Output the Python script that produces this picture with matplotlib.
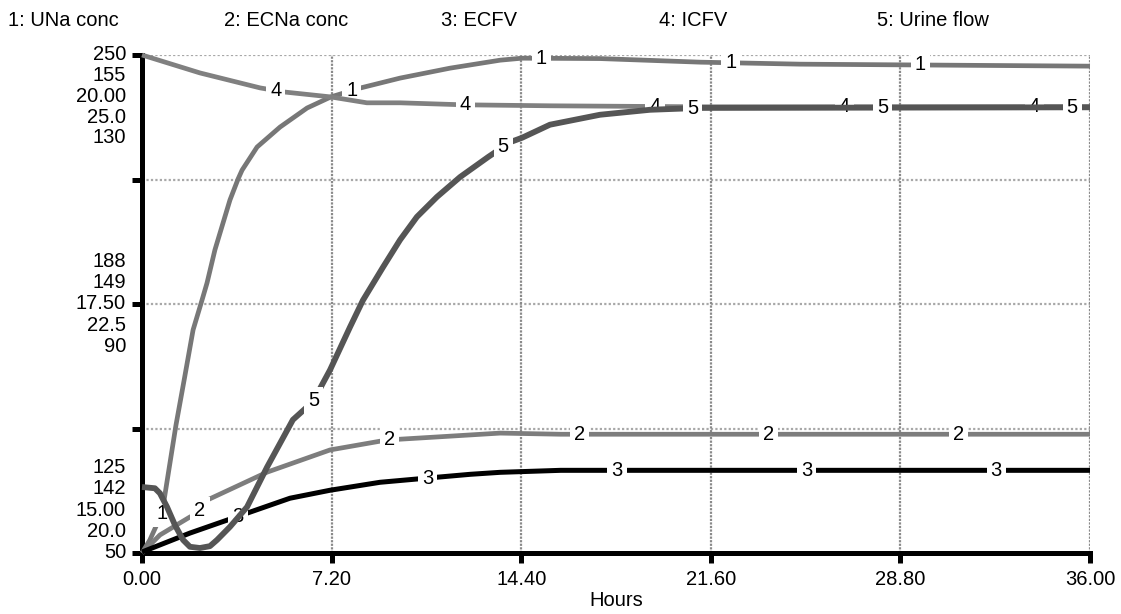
import numpy as np
import matplotlib.pyplot as plt

plt.rcParams['font.family'] = ['Liberation Sans', 'DejaVu Sans']

# time axis (hours)
x_ticks = [0.0, 7.2, 14.4, 21.6, 28.8, 36.0]
x_tick_labels = ['0.00', '7.20', '14.40', '21.60', '28.80', '36.00']

legend_labels = ['1: UNa conc', '2: ECNa conc', '3: ECFV', '4: ICFV', '5: Urine flow']
series_ranges = [(125, 250), (142, 155), (15, 20), (20, 25), (50, 130)]
top_tick_labels = ['250', '155', '20.00', '25.0', '130']
mid_tick_labels = ['188', '149', '17.50', '22.5', '90']
low_tick_labels = ['125', '142', '15.00', '20.0', '50']

# 1: UNa conc
t1 = [0.0, 0.30, 0.76, 0.99, 1.29, 1.60, 1.94, 2.28, 2.47, 2.77, 3.34, 3.65, 3.80, 4.37, 5.24, 6.27,
      7.18, 8.28, 9.80, 11.70, 13.60, 14.43, 17.4, 21.2, 25.0, 36.0]
v1 = [125.0, 128.3, 135.0, 144.6, 157.1, 168.4, 181.0, 188.5, 192.8, 201.1, 213.6, 218.9, 221.1, 226.9,
      231.9, 236.7, 239.5, 241.7, 244.2, 246.7, 248.7, 249.2, 249.1, 248.2, 247.7, 247.2]

# 2: ECNa conc
t2 = [0.0, 0.68, 1.82, 2.13, 2.47, 4.75, 7.14, 9.30, 11.70, 13.60, 15.9, 36.0]
v2 = [142.0, 142.47, 142.94, 143.04, 143.38, 144.11, 144.69, 144.95, 145.05, 145.13, 145.10, 145.10]

# 3: ECFV
t3 = [0.0, 1.82, 3.23, 3.99, 5.62, 7.14, 9.04, 10.74, 12.46, 13.6, 15.9, 36.0]
v3 = [15.01, 15.20, 15.33, 15.40, 15.55, 15.63, 15.71, 15.75, 15.79, 15.81, 15.83, 15.83]

# 4: ICFV
t4 = [0.0, 2.20, 4.48, 5.35, 7.14, 8.54, 9.80, 12.19, 15.5, 21.2, 36.0]
v4 = [25.0, 24.82, 24.67, 24.63, 24.58, 24.52, 24.52, 24.50, 24.49, 24.48, 24.48]

# 5: Urine flow
t5 = [0.0, 0.49, 0.68, 0.95, 1.25, 1.56, 1.82, 2.20, 2.58, 2.85, 3.34, 3.99, 4.75, 5.73, 6.49, 7.14,
      7.90, 8.39, 9.15, 9.80, 10.44, 11.20, 12.08, 13.14, 13.98, 14.43, 15.49, 17.39, 19.29, 21.19, 36.0]
v5 = [60.6, 60.4, 59.6, 57.4, 54.5, 52.1, 51.0, 50.8, 51.1, 52.1, 54.2, 57.4, 63.8, 71.4, 74.3, 79.4,
      86.3, 90.6, 95.9, 100.3, 104.0, 107.2, 110.4, 113.6, 116.0, 116.7, 118.8, 120.4, 121.2, 121.5, 121.6]

series = [(t1, v1), (t2, v2), (t3, v3), (t4, v4), (t5, v5)]
colors = ['#777777', '#7d7d7d', '#000000', '#808080', '#555555']
widths = [3.4, 3.4, 3.6, 3.4, 4.2]

fs = 14.5

fig = plt.figure(figsize=(11.21, 6.14), dpi=100)
ax = fig.add_axes([142 / 1121, 61 / 614, 948 / 1121, 498 / 614])
ax.set_xlim(0, 36)
ax.set_ylim(0, 1)

for yv in [0.25, 0.5, 0.75, 1.0]:
    ax.axhline(yv, color='#a8a8a8', lw=1.6, ls=(0, (1, 1)), zorder=1)
for xv in x_ticks[1:]:
    ax.axvline(xv, color='#8a8a8a', lw=1.6, ls=(0, (1, 0.6)), zorder=1)

for side in ['top', 'right']:
    ax.spines[side].set_visible(False)
for side in ['left', 'bottom']:
    ax.spines[side].set_linewidth(3.6)
    ax.spines[side].set_zorder(6)

ax.set_xticks(x_ticks)
ax.set_xticklabels(x_tick_labels, fontsize=fs)
ax.set_yticks([0, 0.25, 0.5, 0.75, 1.0])
ax.set_yticklabels([])
ax.tick_params(axis='both', direction='out', length=7.5, width=3.6, pad=5)
ax.set_xlabel('Hours', fontsize=fs, labelpad=1)

label_t0 = 0.76
label_dt = 1.44
label_step = 7.2

for i, ((t, v), (lo, hi)) in enumerate(zip(series, series_ranges)):
    sax = ax.twinx()
    sax.set_ylim(lo, hi)
    sax.set_xlim(0, 36)
    sax.axis('off')
    sax.plot(t, v, color=colors[i], lw=widths[i], solid_capstyle='butt', zorder=2, clip_on=False)
    # curve number labels
    for n in range(5):
        tl = label_t0 + i * label_dt + n * label_step
        if tl > 36:
            continue
        vl = np.interp(tl, t, v)
        sax.text(tl, vl, str(i + 1), fontsize=fs, ha='center', va='center', zorder=5,
                 bbox=dict(boxstyle='square,pad=0.2', fc='white', ec='none'))
    # stacked scale labels
    sax.annotate(top_tick_labels[i], xy=(0, hi), xycoords=('axes fraction', 'data'),
                 xytext=(-11.5, -i * 14.9), textcoords='offset points',
                 ha='right', va='center', fontsize=fs, annotation_clip=False)
    sax.annotate(mid_tick_labels[i], xy=(0, (lo + hi) / 2), xycoords=('axes fraction', 'data'),
                 xytext=(-11.5, -(i - 2) * 15.2), textcoords='offset points',
                 ha='right', va='center', fontsize=fs, annotation_clip=False)
    sax.annotate(low_tick_labels[i], xy=(0, lo), xycoords=('axes fraction', 'data'),
                 xytext=(-11.5, (4 - i) * 15.4), textcoords='offset points',
                 ha='right', va='center', fontsize=fs, annotation_clip=False)

legend_x = [8, 224, 441, 659, 877]
for lx, name in zip(legend_x, legend_labels):
    fig.text(lx / 1121, 1 - 21 / 614, name, fontsize=fs, ha='left', va='center')

fig.savefig('out.png', dpi=100)
